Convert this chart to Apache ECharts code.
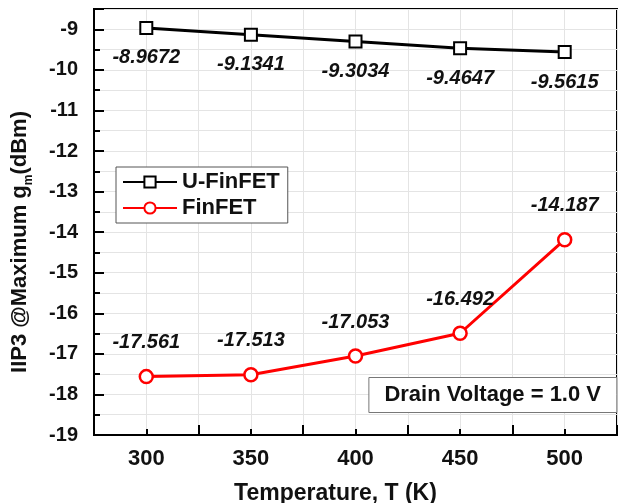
<!DOCTYPE html>
<html>
<head>
<meta charset="utf-8">
<script src="https://cdn.jsdelivr.net/npm/echarts@6/dist/echarts.min.js"></script>
<style>
  html, body { margin: 0; padding: 0; background: #fff; }
  #main { width: 622px; height: 503px; }
</style>
</head>
<body>
<div id="main"></div>
<script>
var temps = [300, 350, 400, 450, 500];
var uFinfet = [-8.9672, -9.1341, -9.3034, -9.4647, -9.5615];
var finfet = [-17.561, -17.513, -17.053, -16.492, -14.187];
var xLabels = [300, 350, 400, 450, 500];
var yLabels = [-19, -18, -17, -16, -15, -14, -13, -12, -11, -10, -9];

var font = '"Liberation Sans", Arial, sans-serif';
var gridColor = '#e4e4e4';

function pairs(xs, ys) {
	var out = [];
	for (var i = 0; i < xs.length; i++) out.push([xs[i], ys[i]]);
	return out;
}

var myChart = echarts.init(document.getElementById('main'));
var option = {
	animation: false,
	textStyle: { fontFamily: font },
	title: {
		text: 'Drain Voltage = 1.0 V',
		right: 5,
		top: 377,
		padding: [7, 16],
		borderColor: '#777',
		borderWidth: 1,
		backgroundColor: '#fff',
		textStyle: { fontFamily: font, fontSize: 22, fontWeight: 'bold', color: '#111' }
	},
	legend: {
		left: 116,
		top: 167,
		orient: 'vertical',
		padding: [4, 8, 4, 6],
		itemGap: 4,
		itemWidth: 54,
		itemHeight: 14,
		borderColor: '#555',
		borderWidth: 1,
		backgroundColor: '#fff',
		textStyle: { fontFamily: font, fontSize: 22, fontWeight: 'bold', color: '#111' },
		data: ['U-FinFET', 'FinFET']
	},
	grid: {
		left: 94,
		right: 5,
		top: 9,
		bottom: 68,
		outerBoundsMode: 'none',
		show: true,
		borderColor: '#000',
		borderWidth: 2
	},
	xAxis: {
		type: 'value',
		min: 275,
		max: 525,
		interval: 50,
		name: 'Temperature, T (K)',
		nameLocation: 'middle',
		nameGap: 47,
		nameTextStyle: { fontFamily: font, fontSize: 23, fontWeight: 'bold', color: '#111', padding: [0, 40, 0, 0] },
		axisLine: { lineStyle: { color: '#000', width: 2 } },
		axisTick: { inside: true, length: 10, lineStyle: { color: '#000', width: 2 } },
		minorTick: { show: true, splitNumber: 2, length: 6, lineStyle: { color: '#000', width: 2 } },
		axisLabel: { customValues: xLabels, margin: 13, fontFamily: font, fontSize: 22, fontWeight: 'bold', color: '#111' },
		splitLine: { show: true, lineStyle: { color: gridColor, width: 1 } },
		minorSplitLine: { show: true, lineStyle: { color: gridColor, width: 1 } }
	},
	yAxis: {
		type: 'value',
		min: -19,
		max: -8.5,
		interval: 1,
		name: 'IIP3 @Maximum g{sub|m}(dBm)',
		nameLocation: 'middle',
		nameRotate: 90,
		nameGap: 59,
		nameTextStyle: {
			fontFamily: font, fontSize: 22, fontWeight: 'bold', color: '#111',
			padding: [0, 40, 0, 0],
			rich: {
				sub: { fontFamily: font, fontSize: 12, fontWeight: 'bold', color: '#111', padding: [18, 0, 0, 0] }
			}
		},
		axisLine: { show: true, lineStyle: { color: '#000', width: 2 } },
		axisTick: { show: true, inside: true, length: 10, lineStyle: { color: '#000', width: 2 } },
		minorTick: { show: true, splitNumber: 2, length: 6, lineStyle: { color: '#000', width: 2 } },
		axisLabel: { customValues: yLabels, margin: 16, fontFamily: font, fontSize: 20, fontWeight: 'bold', color: '#111' },
		splitLine: { show: true, lineStyle: { color: gridColor, width: 1 } },
		minorSplitLine: { show: true, lineStyle: { color: gridColor, width: 1 } }
	},
	series: [{
		name: 'U-FinFET',
		type: 'line',
		data: pairs(temps, uFinfet),
		symbol: 'rect',
		symbolSize: 12,
		lineStyle: { color: '#000', width: 3 },
		itemStyle: { color: '#fff', borderColor: '#000', borderWidth: 2 },
		label: {
			show: true,
			position: 'bottom',
			distance: 13,
			fontFamily: font, fontSize: 20, fontWeight: 'bold', fontStyle: 'italic', color: '#111',
			formatter: function (p) { return p.value[1].toFixed(4); }
		}
	}, {
		name: 'FinFET',
		type: 'line',
		data: pairs(temps, finfet),
		symbol: 'circle',
		symbolSize: 13,
		lineStyle: { color: '#ff0000', width: 3 },
		itemStyle: { color: '#fff', borderColor: '#ff0000', borderWidth: 2.5 },
		label: {
			show: true,
			position: 'top',
			distance: 16,
			fontFamily: font, fontSize: 20, fontWeight: 'bold', fontStyle: 'italic', color: '#111',
			formatter: function (p) { return p.value[1].toFixed(3); }
		}
	}]
};
myChart.setOption(option);
</script>
</body>
</html>
